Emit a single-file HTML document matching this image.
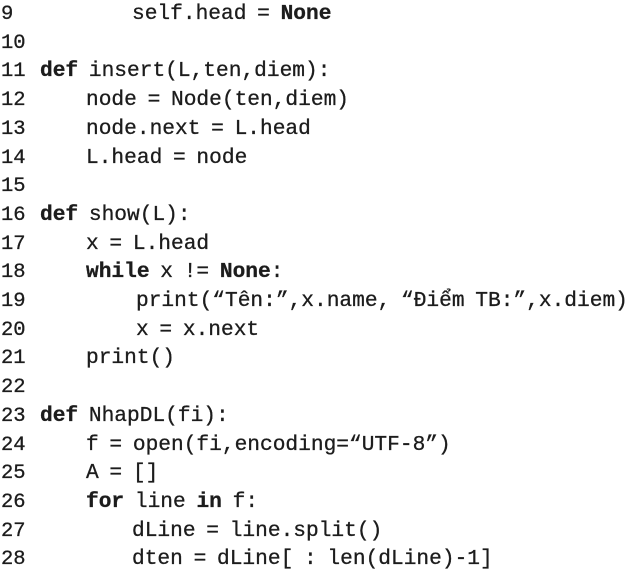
<!DOCTYPE html>
<html><head><meta charset="utf-8"><style>
html,body{margin:0;padding:0;background:#fff;width:635px;height:583px;overflow:hidden}
.l{position:absolute;height:29px;line-height:29px;font-family:"Liberation Mono","DejaVu Sans Mono",monospace;font-size:21.2px;word-spacing:-2px;color:#1c1c1c;white-space:pre;-webkit-text-stroke:0.3px #1c1c1c}
.n{left:1px;font-size:20.5px;word-spacing:0}
b{font-weight:bold}
</style></head><body>
<div class="l n" style="top:0px">9</div><div class="l" style="top:0px;left:132px">self.head = <b>None</b></div>
<div class="l n" style="top:28.7px">10</div>
<div class="l n" style="top:57.4px">11</div><div class="l" style="top:57.4px;left:40px"><b>def</b> insert(L,ten,diem):</div>
<div class="l n" style="top:86.1px">12</div><div class="l" style="top:86.1px;left:86px">node = Node(ten,diem)</div>
<div class="l n" style="top:114.8px">13</div><div class="l" style="top:114.8px;left:86px">node.next = L.head</div>
<div class="l n" style="top:143.5px">14</div><div class="l" style="top:143.5px;left:86px">L.head = node</div>
<div class="l n" style="top:172.2px">15</div>
<div class="l n" style="top:200.9px">16</div><div class="l" style="top:200.9px;left:40px"><b>def</b> show(L):</div>
<div class="l n" style="top:229.6px">17</div><div class="l" style="top:229.6px;left:86px">x = L.head</div>
<div class="l n" style="top:258.3px">18</div><div class="l" style="top:258.3px;left:86px"><b>while</b> x != <b>None</b>:</div>
<div class="l n" style="top:287px">19</div><div class="l" style="top:287px;left:136px">print(“Tên:”,x.name, “Điểm TB:”,x.diem)</div>
<div class="l n" style="top:315.7px">20</div><div class="l" style="top:315.7px;left:136px">x = x.next</div>
<div class="l n" style="top:344.4px">21</div><div class="l" style="top:344.4px;left:86px">print()</div>
<div class="l n" style="top:373.1px">22</div>
<div class="l n" style="top:401.8px">23</div><div class="l" style="top:401.8px;left:40px"><b>def</b> NhapDL(fi):</div>
<div class="l n" style="top:430.5px">24</div><div class="l" style="top:430.5px;left:86px">f = open(fi,encoding=“UTF-8”)</div>
<div class="l n" style="top:459.2px">25</div><div class="l" style="top:459.2px;left:86px">A = []</div>
<div class="l n" style="top:487.9px">26</div><div class="l" style="top:487.9px;left:86px"><b>for</b> line <b>in</b> f:</div>
<div class="l n" style="top:516.6px">27</div><div class="l" style="top:516.6px;left:132px">dLine = line.split()</div>
<div class="l n" style="top:545.3px">28</div><div class="l" style="top:545.3px;left:132px">dten = dLine[ : len(dLine)-1]</div>
</body></html>
